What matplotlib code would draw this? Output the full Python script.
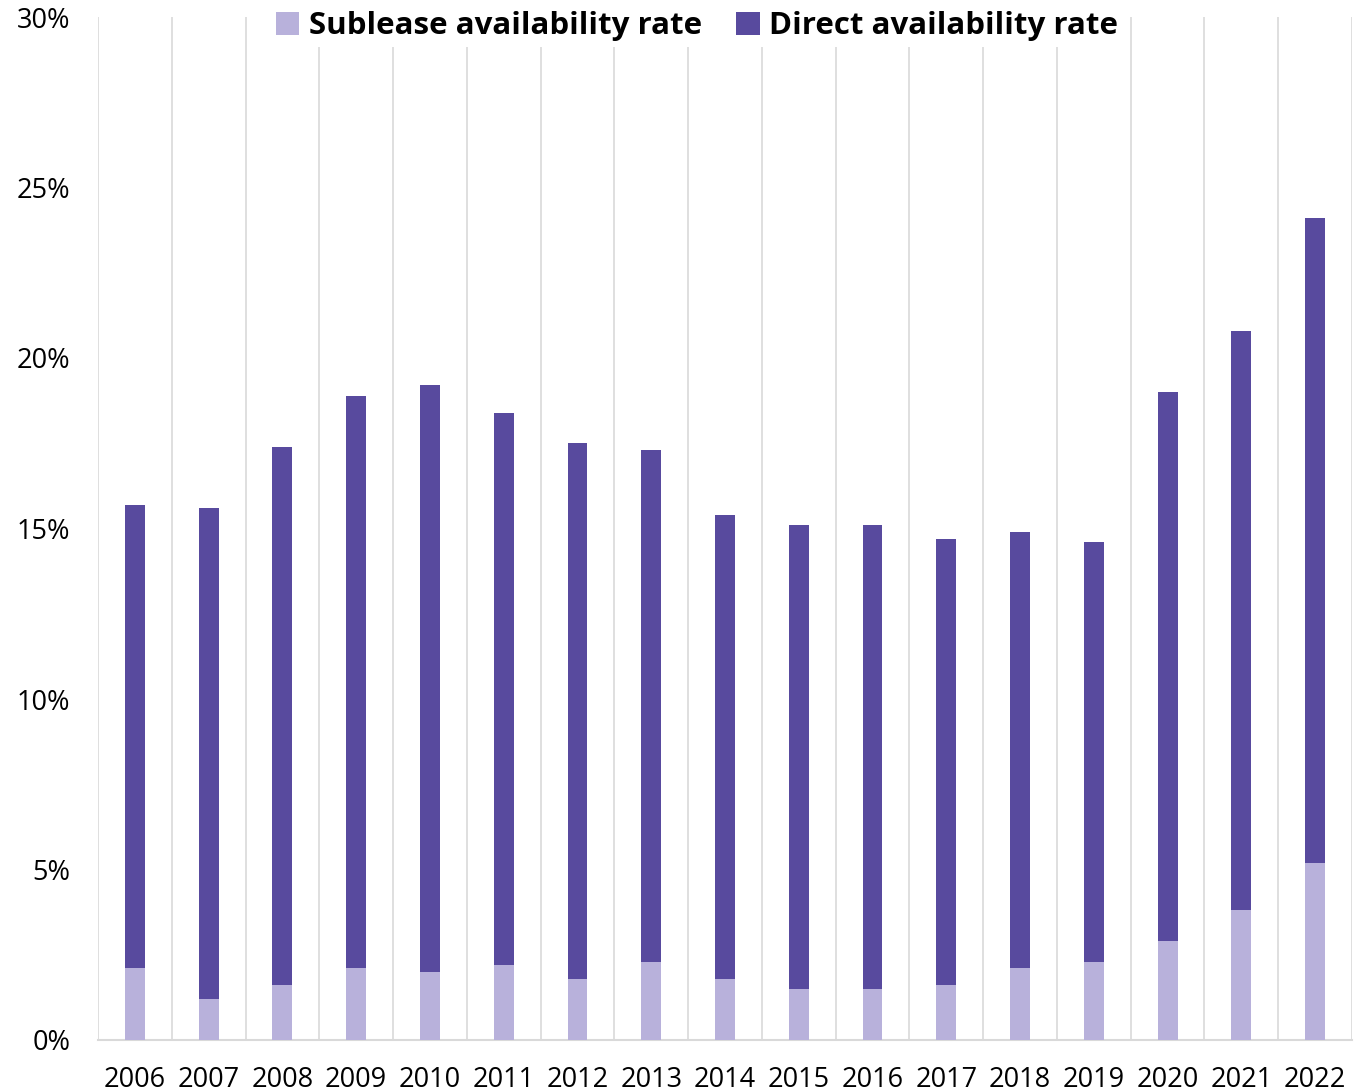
import matplotlib
matplotlib.use("Agg")
import matplotlib.pyplot as plt
import numpy as np
from matplotlib.ticker import FuncFormatter

years = ["2006", "2007", "2008", "2009", "2010", "2011", "2012", "2013", "2014",
         "2015", "2016", "2017", "2018", "2019", "2020", "2021", "2022"]
sublease = [2.1, 1.2, 1.6, 2.1, 2.0, 2.2, 1.8, 2.3, 1.8, 1.5, 1.5, 1.6, 2.1, 2.3, 2.9, 3.8, 5.2]
total = [15.7, 15.6, 17.4, 18.9, 19.2, 18.4, 17.5, 17.3, 15.4, 15.1, 15.1, 14.7, 14.9, 14.6, 19.0, 20.8, 24.1]
direct = [round(t - s, 2) for t, s in zip(total, sublease)]

plt.rcParams['font.family'] = ['Open Sans', 'DejaVu Sans']

fig = plt.figure(figsize=(13.6, 10.92), dpi=100)
ax = fig.add_axes([98/1360, 1 - 1040/1092, (1352-98)/1360, (1040-17)/1092])

x = np.arange(len(years))
w = 0.27
c_sub = "#B8B1DB"
c_dir = "#584A9E"
ax.bar(x, sublease, width=w, color=c_sub, label="Sublease availability rate", zorder=3)
ax.bar(x, direct, width=w, bottom=sublease, color=c_dir, label="Direct availability rate", zorder=3)

for b in np.arange(-0.5, len(years), 1.0):
    ax.axvline(b, color="#D9D9D9", lw=1.2, zorder=1)

ax.set_xlim(-0.5, len(years) - 0.5)
ax.set_ylim(0, 30)
ax.set_yticks(range(0, 31, 5))
ax.yaxis.set_major_formatter(FuncFormatter(lambda v, p: f"{int(v)}%"))
ax.set_xticks(x)
ax.set_xticklabels(years)
ax.tick_params(axis='both', length=0, labelsize=19.5, colors="#000000")
ax.tick_params(axis='x', pad=19)
ax.tick_params(axis='y', pad=20)
for s in ["top", "right", "left"]:
    ax.spines[s].set_visible(False)
ax.spines["bottom"].set_color("#D9D9D9")
ax.spines["bottom"].set_linewidth(1.5)

leg = fig.legend(loc="center", bbox_to_anchor=(697/1360, 1 - 26/1092), ncol=2,
                 frameon=True, fancybox=False, edgecolor="none", facecolor="white", framealpha=1,
                 prop={'weight': 'bold', 'size': 22.5}, handlelength=0.75, handleheight=0.75,
                 handletextpad=0.3, columnspacing=1.1, borderpad=0.2)

fig.savefig("out.png", dpi=100)
